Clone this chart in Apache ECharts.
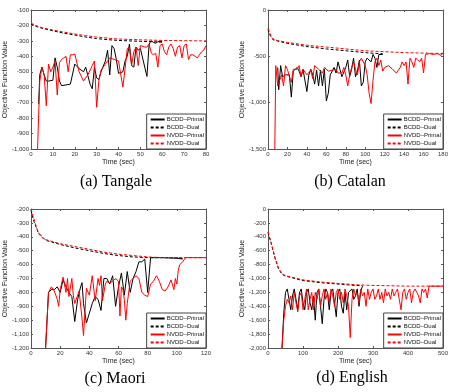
<!DOCTYPE html>
<html>
<head>
<meta charset="utf-8">
<script src="https://cdn.jsdelivr.net/npm/echarts@6/dist/echarts.min.js"></script>
<style>html,body{margin:0;padding:0;background:#fff}#c{width:457px;height:392px}</style>
</head>
<body>
<div id="c"></div>
<script>
// ---------- data ----------
const seriesNames = ['BCDD\u2013Primal', 'BCDD\u2013Dual', 'NVDD\u2013Primal', 'NVDD\u2013Dual'];
const panelTitles = ['(a) Tangale', '(b) Catalan', '(c) Maori', '(d) English'];
const xRanges = [[0, 80, 10], [0, 180, 20], [0, 120, 20], [0, 500, 100]];
const yRanges = [[-1000, -100, 100], [-1500, 0, 500], [-1200, -200, 100], [-2000, 0, 200]];

// (a) Tangale
const tangaleBcddPrimal = [[3.5,-710],[4,-520],[5,-470],[6,-520],[7,-560],[8,-560],[10,-555],[11,-410],[12,-470],[13,-560],[14,-590],[18,-580],[20,-450],[22,-480],[24,-500],[25,-470],[27,-580],[28,-610],[29,-470],[30,-540],[31,-550],[32,-500],[34,-430],[35,-360],[36,-520],[37,-330],[38,-350],[39,-420],[40,-510],[42,-500],[43,-430],[44,-400],[45,-320],[46,-460],[47,-470],[48,-340],[49,-360],[50,-350],[53,-530],[54,-320],[55,-300],[56,-310],[57,-315],[58,-305],[60,-305]];
const tangaleBcddDual = [[0,-190],[2,-205],[5,-218],[10,-235],[15,-250],[20,-262],[25,-275],[30,-285],[35,-292],[40,-297],[45,-300],[50,-303],[55,-305],[58,-307],[60,-308]];
const tangaleNvddPrimal = [[3,-1000],[4,-560],[5,-470],[6,-520],[7,-720],[8,-450],[9,-500],[10,-470],[11,-430],[12,-650],[13,-440],[14,-420],[15,-410],[16,-400],[17,-500],[18,-390],[19,-390],[20,-385],[22,-500],[24,-560],[26,-520],[28,-460],[29,-430],[30,-730],[31,-560],[32,-490],[34,-450],[36,-410],[38,-420],[40,-430],[42,-600],[43,-480],[44,-350],[45,-350],[46,-460],[47,-370],[48,-340],[49,-460],[50,-330],[52,-340],[53,-340],[54,-320],[55,-380],[56,-390],[57,-380],[58,-470],[59,-330],[60,-320],[61,-370],[62,-390],[63,-340],[64,-320],[65,-350],[66,-400],[67,-340],[68,-330],[69,-410],[70,-330],[71,-320],[72,-420],[73,-390],[74,-390],[75,-400],[76,-410],[77,-390],[78,-370],[79,-360],[80,-330]];
const tangaleNvddDual = [[0,-185],[2,-200],[5,-215],[10,-230],[15,-243],[20,-255],[25,-266],[30,-275],[35,-282],[40,-288],[50,-293],[60,-297],[70,-299],[80,-300]];

// (b) Catalan
const catalanBcddPrimal = [[10,-620],[11,-860],[13,-600],[15,-720],[18,-700],[22,-700],[24,-940],[26,-660],[28,-650],[30,-620],[32,-660],[34,-720],[36,-640],[38,-620],[40,-880],[42,-700],[44,-640],[46,-700],[48,-800],[50,-650],[52,-820],[54,-650],[56,-820],[58,-640],[60,-980],[62,-900],[64,-700],[66,-680],[68,-620],[70,-680],[72,-560],[74,-640],[76,-720],[78,-700],[80,-620],[82,-540],[84,-720],[86,-640],[88,-520],[90,-720],[92,-660],[94,-540],[96,-820],[98,-780],[100,-560],[102,-520],[104,-500],[106,-560],[108,-480],[110,-520],[112,-620],[114,-480],[116,-480],[118,-480]];
const catalanBcddDual = [[0,-210],[2,-270],[5,-320],[10,-335],[20,-360],[40,-395],[60,-420],[80,-440],[100,-460],[110,-468],[118,-472]];
const catalanNvddPrimal = [[7,-1500],[8,-600],[10,-820],[12,-820],[14,-700],[16,-820],[18,-600],[20,-640],[22,-720],[24,-780],[26,-640],[28,-660],[30,-640],[32,-600],[34,-720],[36,-640],[38,-620],[40,-700],[42,-680],[44,-650],[46,-740],[48,-600],[50,-620],[52,-640],[54,-660],[56,-680],[58,-620],[60,-640],[62,-660],[64,-640],[66,-650],[68,-660],[70,-640],[72,-680],[74,-700],[76,-680],[78,-620],[80,-700],[82,-820],[84,-700],[86,-620],[88,-560],[90,-640],[92,-700],[94,-560],[96,-520],[98,-560],[100,-600],[102,-700],[104,-900],[106,-1010],[108,-760],[110,-560],[112,-520],[114,-600],[116,-540],[118,-660],[120,-620],[124,-600],[128,-640],[132,-680],[136,-620],[138,-560],[140,-600],[142,-560],[144,-800],[146,-520],[148,-560],[150,-620],[152,-520],[154,-540],[156,-560],[158,-520],[160,-680],[162,-480],[164,-480],[166,-470],[170,-480],[174,-470],[178,-490],[180,-460]];
const catalanNvddDual = [[0,-200],[3,-280],[5,-310],[10,-330],[20,-350],[40,-380],[60,-400],[80,-420],[100,-440],[120,-450],[140,-460],[160,-465],[180,-470]];

// (c) Maori
const maoriBcddPrimal = [[10,-1200],[12,-800],[14,-780],[16,-780],[18,-760],[20,-800],[22,-710],[24,-760],[26,-800],[28,-830],[30,-1010],[32,-850],[34,-760],[35,-730],[36,-880],[38,-1020],[40,-950],[42,-880],[44,-830],[46,-850],[48,-930],[50,-700],[52,-700],[54,-740],[56,-680],[58,-900],[60,-760],[62,-660],[64,-820],[66,-650],[68,-800],[70,-700],[72,-650],[74,-580],[76,-580],[78,-560],[80,-800],[82,-550],[90,-550],[100,-555],[104,-560]];
const maoriBcddDual = [[0,-210],[2,-290],[5,-370],[10,-425],[20,-455],[30,-480],[40,-500],[50,-520],[60,-535],[70,-545],[80,-550],[90,-550],[100,-550],[104,-555]];
const maoriNvddPrimal = [[10,-1200],[12,-800],[14,-760],[16,-790],[18,-850],[19,-900],[20,-780],[22,-690],[24,-800],[25,-700],[26,-830],[28,-700],[29,-820],[30,-880],[32,-820],[33,-790],[35,-990],[36,-1110],[38,-770],[40,-820],[42,-680],[44,-860],[46,-700],[47,-750],[48,-680],[49,-860],[50,-860],[51,-740],[52,-720],[54,-730],[56,-720],[58,-700],[60,-720],[61,-970],[62,-760],[63,-780],[64,-850],[65,-1000],[66,-880],[68,-720],[70,-700],[72,-680],[74,-700],[76,-800],[78,-820],[80,-830],[82,-740],[84,-720],[86,-680],[88,-720],[90,-780],[92,-790],[94,-760],[96,-710],[98,-780],[99,-700],[100,-740],[101,-640],[102,-600],[104,-580],[106,-550],[120,-550]];
const maoriNvddDual = [[0,-200],[2,-270],[4,-340],[6,-390],[8,-410],[10,-420],[20,-450],[30,-470],[40,-490],[50,-510],[60,-525],[70,-535],[80,-545],[90,-550],[100,-550],[120,-550]];

// (d) English
const englishBcddPrimal = [[40,-2000],[45,-1500],[50,-1200],[55,-1150],[60,-1300],[65,-1450],[70,-1250],[75,-1150],[80,-1300],[85,-1450],[90,-1200],[95,-1150],[100,-1350],[105,-1450],[110,-1200],[115,-1150],[120,-1350],[125,-1450],[130,-1250],[135,-1600],[140,-1200],[145,-1150],[150,-1400],[155,-1650],[160,-1300],[165,-1150],[170,-1200],[175,-1450],[180,-1200],[185,-1150],[190,-1350],[195,-1550],[200,-1200],[205,-1150],[210,-1400],[215,-1500],[220,-1200],[225,-1450],[230,-1200],[240,-1150],[245,-1300],[250,-1250],[255,-1150],[260,-1400],[265,-1180],[270,-1110]];
const englishBcddDual = [[0,-340],[10,-510],[20,-710],[30,-860],[40,-940],[50,-965],[100,-1030],[150,-1060],[200,-1080],[250,-1100],[270,-1105]];
const englishNvddPrimal = [[40,-2000],[45,-1600],[50,-1400],[55,-1300],[60,-1350],[65,-1250],[70,-1450],[75,-1200],[80,-1350],[85,-1480],[90,-1250],[95,-1200],[100,-1450],[105,-1300],[110,-1150],[115,-1450],[120,-1300],[125,-1200],[130,-1450],[135,-1200],[140,-1300],[145,-1150],[150,-1400],[155,-1250],[160,-1150],[165,-1300],[170,-1200],[175,-1350],[180,-1150],[185,-1250],[190,-1400],[195,-1200],[200,-1150],[205,-1300],[210,-1200],[215,-1350],[220,-1150],[225,-1250],[230,-1400],[235,-1850],[240,-1300],[245,-1150],[250,-1250],[255,-1200],[260,-1350],[265,-1150],[270,-1250],[275,-1200],[280,-1400],[285,-1150],[290,-1300],[295,-1200],[300,-1150],[305,-1300],[310,-1250],[315,-1150],[320,-1300],[325,-1200],[330,-1350],[335,-1150],[340,-1250],[345,-1200],[350,-1300],[355,-1150],[360,-1250],[365,-1200],[370,-1150],[375,-1300],[380,-1450],[385,-1200],[390,-1150],[395,-1300],[400,-1200],[405,-1150],[410,-1350],[415,-1200],[420,-1150],[425,-1200],[430,-1250],[435,-1350],[440,-1150],[445,-1200],[450,-1150],[455,-1280],[460,-1110],[500,-1110]];
const englishNvddDual = [[0,-330],[10,-500],[20,-700],[30,-850],[40,-930],[50,-960],[100,-1020],[150,-1050],[200,-1070],[250,-1090],[300,-1100],[400,-1110],[500,-1110]];

const panelData = [
  [tangaleBcddPrimal, tangaleBcddDual, tangaleNvddPrimal, tangaleNvddDual],
  [catalanBcddPrimal, catalanBcddDual, catalanNvddPrimal, catalanNvddDual],
  [maoriBcddPrimal, maoriBcddDual, maoriNvddPrimal, maoriNvddDual],
  [englishBcddPrimal, englishBcddDual, englishNvddPrimal, englishNvddDual]
];

// ---------- layout ----------
const W = 457, H = 392;
const grids = [
  {left: 31, top: 10, width: 175, height: 139},
  {left: 268, top: 10, width: 175, height: 139},
  {left: 31, top: 209, width: 175, height: 139},
  {left: 268, top: 209, width: 175, height: 139}
];
const titlePos = [[116, 182], [350, 182], [115, 379], [352, 378]];
const styles = [
  {color: '#000', type: 'solid'},
  {color: '#000', type: [3, 2]},
  {color: '#ff0000', type: 'solid'},
  {color: '#ff0000', type: [3, 2]}
];
const frameColor = '#555';
const labelFont = {fontSize: 6, color: '#333', fontFamily: 'Liberation Sans'};

const xAxes = [], yAxes = [], series = [], legends = [], graphics = [];
grids.forEach((g, i) => {
  xAxes.push({
    gridIndex: i, type: 'value', min: xRanges[i][0], max: xRanges[i][1], interval: xRanges[i][2],
    name: 'Time (sec)', nameLocation: 'middle', nameGap: 10,
    nameTextStyle: {fontSize: 7, color: '#222', fontFamily: 'Liberation Sans'},
    axisLine: {show: true, onZero: false, lineStyle: {color: frameColor, width: 1}},
    axisTick: {inside: true, length: 2, lineStyle: {color: frameColor}},
    axisLabel: Object.assign({margin: 2}, labelFont),
    splitLine: {show: false}
  });
  yAxes.push({
    gridIndex: i, type: 'value', min: yRanges[i][0], max: yRanges[i][1], interval: yRanges[i][2],
    name: 'Objective Function Value', nameLocation: 'middle', nameGap: 21,
    nameTextStyle: {fontSize: 7, color: '#222', fontFamily: 'Liberation Sans'},
    axisLine: {show: true, onZero: false, lineStyle: {color: frameColor, width: 1}},
    axisTick: {inside: true, length: 2, lineStyle: {color: frameColor}},
    axisLabel: Object.assign({margin: 2}, labelFont),
    splitLine: {show: false}
  });
});
grids.forEach((g, i) => {
  xAxes.push({
    gridIndex: i, type: 'value', position: 'top', min: xRanges[i][0], max: xRanges[i][1], interval: xRanges[i][2],
    axisLine: {show: true, onZero: false, lineStyle: {color: frameColor, width: 1}},
    axisTick: {inside: true, length: 2, lineStyle: {color: frameColor}},
    axisLabel: {show: false}, splitLine: {show: false}
  });
  yAxes.push({
    gridIndex: i, type: 'value', position: 'right', min: yRanges[i][0], max: yRanges[i][1], interval: yRanges[i][2],
    axisLine: {show: true, onZero: false, lineStyle: {color: frameColor, width: 1}},
    axisTick: {inside: true, length: 2, lineStyle: {color: frameColor}},
    axisLabel: {show: false}, splitLine: {show: false}
  });
});

panelData.forEach((arrs, i) => {
  arrs.forEach((d, k) => {
    series.push({
      type: 'line', name: seriesNames[k], xAxisIndex: i, yAxisIndex: i,
      data: d, showSymbol: false, symbol: 'none', animation: false,
      lineStyle: {color: styles[k].color, type: styles[k].type, width: 1},
      itemStyle: {color: styles[k].color},
      z: 2 + k
    });
  });
  const g = grids[i];
  legends.push({
    data: seriesNames.map(n => ({name: n, itemStyle: {opacity: 0, borderWidth: 0}})),
    orient: 'vertical',
    right: W - (g.left + g.width), bottom: H - (g.top + g.height),
    backgroundColor: '#fff', borderColor: '#444', borderWidth: 1,
    padding: [2, 2, 2, 3], itemGap: 1, itemWidth: 14, itemHeight: 7,
    itemStyle: {opacity: 0, borderWidth: 0},
    textStyle: {fontSize: 6, color: '#111', fontFamily: 'Liberation Sans', lineHeight: 7, padding: [0, 0, 0, -3]},
    selectedMode: false, z: 10
  });
  graphics.push({
    type: 'text', x: titlePos[i][0], y: titlePos[i][1],
    style: {text: panelTitles[i], fill: '#000', font: '16px "Liberation Serif"', textAlign: 'center', textVerticalAlign: 'middle'}
  });
});

const chart = echarts.init(document.getElementById('c'), null, {renderer: 'canvas'});
chart.setOption({
  animation: false,
  backgroundColor: '#fff',
  grid: grids,
  xAxis: xAxes,
  yAxis: yAxes,
  legend: legends,
  series: series,
  graphic: graphics
});
</script>
</body>
</html>
